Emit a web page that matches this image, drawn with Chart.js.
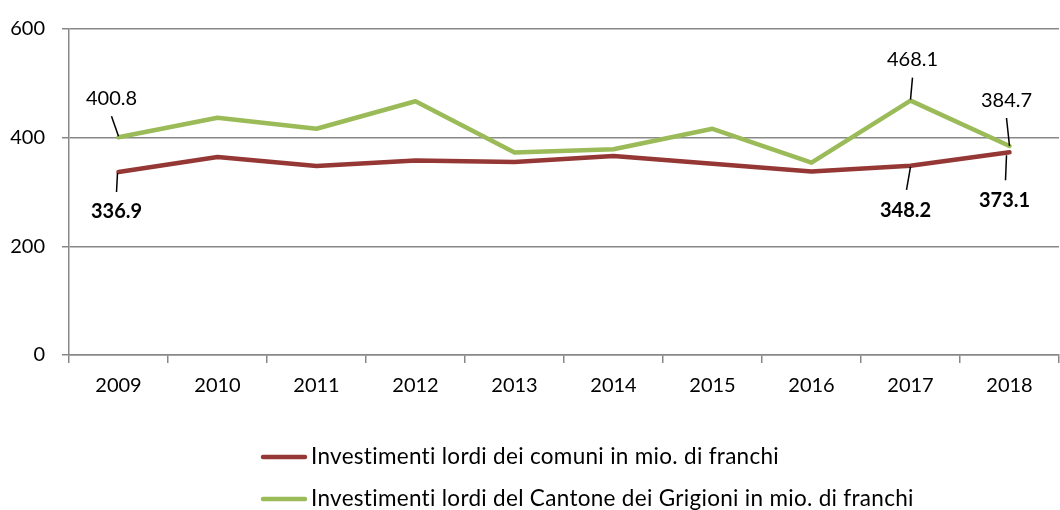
<!DOCTYPE html>
<html>
<head>
<meta charset="utf-8">
<script src="https://cdn.jsdelivr.net/npm/chart.js@4/dist/chart.umd.min.js"></script>
<style>
  html, body { margin: 0; padding: 0; background: #ffffff; }
  #wrap { width: 1060px; height: 510px; position: relative; }
</style>
</head>
<body>
<div id="wrap"><canvas id="c" width="1060" height="510"></canvas></div>
<script>
const years = ['2009','2010','2011','2012','2013','2014','2015','2016','2017','2018'];
const comuni = [336.9, 364.6, 348.0, 358.0, 355.0, 366.4, 352.0, 337.7, 348.2, 373.1];
const cantone = [400.8, 436.6, 416.4, 467.0, 372.5, 378.6, 416.4, 354.0, 468.1, 384.7];
const seriesNames = [
  'Investimenti lordi dei comuni in mio. di franchi',
  'Investimenti lordi del Cantone dei Grigioni in mio. di franchi'
];
const yTicks = [0, 200, 400, 600];

const FONT = 'Lato';
const FS = 20;
const LEG_FS = 22.5;
const RED = '#953735';
const GREEN = '#9BBB59';
const GRID = '#888888';

// labels: which point, label offset from point, leader line start/end offsets
const labelSpecs = [
  { ds: 1, i: 0, dx: -7, dy: -39, l0: [-7, -21], l1: [0, -1], bold: false },
  { ds: 0, i: 0, dx: -2, dy: 40, l0: [-1, 1], l1: [-2, 20], bold: true },
  { ds: 1, i: 8, dx: 2, dy: -41, l0: [2, -23], l1: [0, -1], bold: false },
  { ds: 1, i: 9, dx: -3, dy: -45, l0: [-3, -28], l1: [0, 0], bold: false },
  { ds: 0, i: 8, dx: -5, dy: 45, l0: [0, 1], l1: [-4, 24], bold: true },
  { ds: 0, i: 9, dx: -5, dy: 48, l0: [-3, 3], l1: [-4, 28], bold: true }
];

const dataLabelPlugin = {
  id: 'dataLabelsCustom',
  afterDatasetsDraw(chart) {
    const ctx = chart.ctx;
    ctx.save();
    labelSpecs.forEach(s => {
      const meta = chart.getDatasetMeta(s.ds);
      const pt = meta.data[s.i];
      const v = chart.data.datasets[s.ds].data[s.i];
      const x = pt.x, y = pt.y;
      ctx.strokeStyle = '#000000';
      ctx.lineWidth = 1.5;
      ctx.beginPath();
      ctx.moveTo(x + s.l0[0], y + s.l0[1]);
      ctx.lineTo(x + s.l1[0], y + s.l1[1]);
      ctx.stroke();
      ctx.fillStyle = '#000000';
      ctx.font = (s.bold ? 'bold ' : '') + FS + 'px ' + FONT;
      ctx.textAlign = 'center';
      ctx.textBaseline = 'middle';
      ctx.fillText(v.toFixed(1), x + s.dx, y + s.dy);
    });
    ctx.restore();
  }
};

const legendPlugin = {
  id: 'legendCustom',
  afterDraw(chart) {
    const ctx = chart.ctx;
    ctx.save();
    const rows = [457, 499];
    chart.data.datasets.forEach((d, k) => {
      const y = rows[k];
      ctx.strokeStyle = d.borderColor;
      ctx.lineWidth = 4.5;
      ctx.lineCap = 'round';
      ctx.beginPath();
      ctx.moveTo(263, y);
      ctx.lineTo(305, y);
      ctx.stroke();
      ctx.fillStyle = '#000000';
      ctx.font = LEG_FS + 'px ' + FONT;
      if ('letterSpacing' in ctx) ctx.letterSpacing = '0.3px';
      ctx.textAlign = 'left';
      ctx.textBaseline = 'middle';
      ctx.fillText(d.label, 311, y);
    });
    ctx.restore();
  }
};

new Chart(document.getElementById('c'), {
  type: 'line',
  data: {
    labels: years,
    datasets: [
      { label: seriesNames[0], data: comuni, borderColor: RED, backgroundColor: RED },
      { label: seriesNames[1], data: cantone, borderColor: GREEN, backgroundColor: GREEN }
    ]
  },
  options: {
    responsive: false,
    animation: false,
    devicePixelRatio: 1,
    layout: { padding: { top: 18.5, right: 1, left: 0, bottom: 0 } },
    elements: {
      line: { borderWidth: 4.5, tension: 0, borderJoinStyle: 'round', borderCapStyle: 'round' },
      point: { radius: 0, hoverRadius: 0 }
    },
    plugins: {
      legend: { display: false },
      tooltip: { enabled: false }
    },
    scales: {
      x: {
        offset: true,
        grid: { display: true, drawOnChartArea: false, drawTicks: true, tickLength: 8, offset: true, color: GRID, lineWidth: 1.5 },
        border: { display: true, color: GRID, width: 1.5 },
        ticks: { color: '#000000', font: { family: FONT, size: FS }, padding: 11, maxRotation: 0, autoSkip: false },
        afterFit(scale) { scale.height = 155; }
      },
      y: {
        min: 0,
        max: 600,
        afterBuildTicks(scale) { scale.ticks = yTicks.map(v => ({ value: v })); },
        grid: { color: GRID, lineWidth: 1.5, tickLength: 7 },
        border: { display: true, color: GRID, width: 1.5 },
        ticks: { color: '#000000', font: { family: FONT, size: FS }, padding: 17 },
        afterFit(scale) { scale.width = 69; }
      }
    }
  },
  plugins: [dataLabelPlugin, legendPlugin]
});
</script>
</body>
</html>
